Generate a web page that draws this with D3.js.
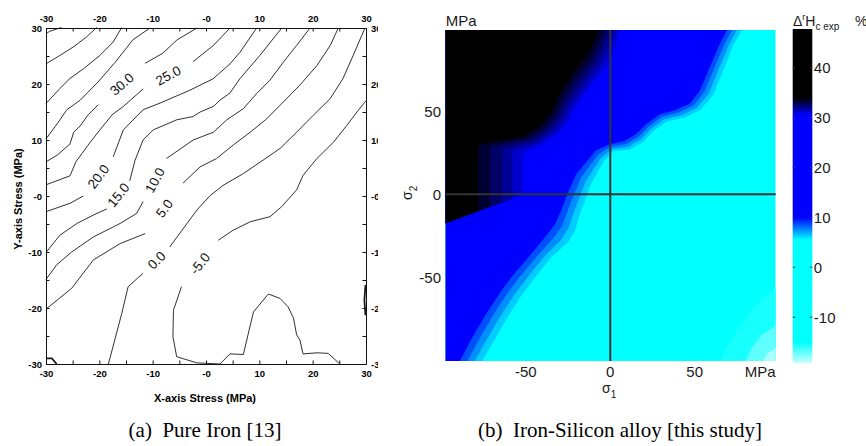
<!DOCTYPE html>
<html>
<head>
<meta charset="utf-8">
<script src="https://cdn.jsdelivr.net/npm/d3@7"></script>
<style>
  body { margin: 0; background: #fff; }
  svg { display: block; }
</style>
</head>
<body>
<svg id="fig" width="866" height="446"></svg>
<script>
// ---------- (a) Pure iron: contour lines in MPa ----------
const ironTicks = [-30, -20, -10, 0, 10, 20, 30];
const ironTickLabels = ["-30", "-20", "-10", "-0", "10", "20", "30"];
const ironLevels = [50, 45, 40, 35, 30, 25, 20, 15, 10, 5, 0, -5];
// index of the segment that is cut out for the inline label (-1 = no label)
const ironLabelSeg = [-1, -1, -1, -1, 6, 7, 2, 4, 6, 4, 3, 11];

const iron50 = [[-30,29.0],[-29.3,29.4],[-27.1,30.1]];
const iron45 = [[-30,23.6],[-27.4,25.1],[-24.9,26.6],[-22.4,28.4],[-20.5,30.1]];
const iron40 = [[-30,16.5],[-27.4,19.2],[-25.5,21.0],[-23.0,22.7],[-19.9,25.1],[-17.4,27.5],[-15.8,30.1]];
const iron35 = [[-30,10.2],[-27.9,12.9],[-26.1,15.4],[-23.6,17.1],[-20.4,20.2],[-17.1,23.8],[-13.7,27.9],[-10.5,30]];
const iron30 = [[-30,6.1],[-27.9,7.3],[-25.5,9.3],[-24.8,11.4],[-23.6,12.5],[-22.1,14.5],[-20.2,16.3],[-11.4,23.7],[-8.1,25.5],[-5.4,27.9],[-1.7,30]];
const iron25 = [[-30,2.0],[-25.5,3.6],[-24.4,6.1],[-22.1,9.1],[-19.9,11.8],[-17.6,14.5],[-15.5,16.0],[-11.8,19.1],[-2.4,24.0],[1.4,26.9],[4.5,30]];
const iron20 = [[-30,-2.8],[-25.5,-1.3],[-23.0,0.0],[-17.4,7.0],[-15.5,11.8],[-11.8,15.4],[-8.6,16.6],[-3.0,18.9],[-1.1,19.8],[1.3,20.9],[2.6,22.0],[4.5,23.6],[6.4,25.7],[9.5,30]];
const iron15 = [[-30,-10.1],[-27.4,-7.0],[-24.2,-4.9],[-21.1,-3.4],[-18.6,-2.3],[-14.3,2.7],[-13.3,6.4],[-11.8,10.0],[-9.9,11.8],[-5.5,13.6],[-2.4,14.2],[-1.1,15.0],[1.4,16.0],[2.6,17.1],[4.5,18.4],[6.4,21.0],[10.1,25.1],[14.2,30]];
const iron10 = [[-30,-14.9],[-28.0,-12.3],[-25.2,-10.0],[-21.1,-7.3],[-16.1,-4.9],[-13.0,-3.1],[-11.8,-1.0],[-7.4,6.7],[-2.4,10.0],[1.4,11.4],[3.9,13.6],[7.0,15.6],[9.5,18.3],[12.0,20.7],[14.5,23.9],[17.0,26.9],[19.5,30]];
const iron5 = [[-30,-20.2],[-25.2,-16.5],[-21.1,-11.4],[-16.1,-8.5],[-11.4,-6.7],[-4.3,2.3],[-1.1,5.2],[2.0,6.7],[5.1,9.1],[8.3,11.4],[11.4,13.8],[14.5,16.8],[17.6,19.8],[20.8,23.3],[23.3,26.9],[24.8,30]];
const iron0 = [[-18.3,-30],[-15.8,-21.0],[-14.6,-16.2],[-11.8,-13.8],[-6.8,-9.1],[-1.7,-2.5],[0.8,0.1],[3.2,1.9],[7.0,4.0],[10.7,6.4],[13.9,8.5],[17.0,11.4],[20.1,14.4],[23.3,17.4],[25.7,21.0],[27.6,25.1],[29.8,30]];
const ironM5 = [[30,17.0],[28.3,15.0],[26.4,12.6],[23.9,9.6],[20.8,6.7],[18.2,3.7],[17.0,1.1],[14.2,-1.9],[12.0,-3.7],[8.3,-4.6],[5.1,-6.1],[2.3,-7.9],[-4.6,-16.2],[-6.1,-20.4],[-6.2,-25.1],[-5.5,-28.7],[-1.7,-29.8],[2.6,-30],[4.5,-28.2],[7.0,-28.3],[8.9,-20.7],[11.7,-17.5],[13.9,-18.3],[15.4,-19.8],[16.4,-21.8],[17.0,-24.8],[17.6,-25.7],[18.2,-28.2],[20.8,-28.0],[22.9,-28.1],[25.1,-30]];
// short pieces running along the frame
const ironCorner = [[-30,-29.0],[-28.9,-29.0],[-28.0,-30]];
const ironEdge = [[29.9,-15.9],[29.7,-18.6],[29.9,-21.3]];

// ---------- (b) Iron-silicon: filled contour boundaries in MPa ----------
const fesiXTicks = [-50, 0, 50];
const fesiYTicks = [50, 0, -50];
const cbTicks = [40, 30, 20, 10, 0, -10];

// light corner, bottom right
const fesiA1 = [[64.5,-102],[69.7,-90.9],[76.8,-79.4],[83.9,-69.8],[91.6,-61.4],[101,-55]];
const fesiA2 = [[79.5,-102],[83.9,-92.7],[89.8,-84.9],[101,-77.5]];
const fesiA3 = [[89.5,-102],[93.4,-95.7],[101,-91]];
// cyan -> blue transition, top edge to bottom edge
const fesiT1 = [[79,101],[72.7,89.9],[66.8,74.8],[60.8,59.8],[53.1,50.8],[44.3,46.5],[33.6,44.1],[25.3,38.1],[19.4,31.5],[11.7,27.2],[1.6,26.0],[-4.3,19.4],[-7.9,12.8],[-12.0,5.5],[-13.8,-0.5],[-18.0,-11.3],[-20.9,-21.6],[-25.1,-28.8],[-35.7,-38.5],[-45.8,-51.7],[-53.5,-62.0],[-62.4,-76.4],[-71.3,-92.1],[-77,-102]];
const fesiT2 = [[76,101],[69.9,89.9],[64.0,75.2],[58.2,60.8],[51.1,52.2],[42.3,47.9],[32.2,45.5],[23.9,39.5],[18.0,33.1],[10.5,28.8],[1.0,27.4],[-5.7,21.8],[-10.1,15.0],[-14.8,7.7],[-17.6,0.1],[-21.7,-10.7],[-24.9,-20.4],[-29.6,-27.8],[-39.7,-37.9],[-49.9,-50.9],[-57.4,-61.0],[-66.3,-75.2],[-75.2,-90.9],[-81.3,-102]];
const fesiT3 = [[73,101],[67.2,89.9],[61.3,75.6],[55.6,61.8],[49.1,53.6],[40.3,49.4],[30.8,47.0],[22.5,40.9],[16.6,34.7],[9.3,30.5],[0.4,28.9],[-7.1,24.2],[-12.3,17.2],[-17.6,10.0],[-21.3,0.7],[-25.5,-10.1],[-28.8,-19.2],[-34.2,-26.8],[-43.6,-37.3],[-54.1,-50.1],[-61.4,-60.0],[-70.3,-74.0],[-79.1,-89.7],[-85.6,-102]];
const fesiT4 = [[70,101],[64.4,89.9],[58.5,76.0],[53.1,62.8],[47.2,54.9],[38.3,50.8],[29.4,48.4],[21.1,42.3],[15.2,36.3],[8.1,32.1],[-0.2,30.3],[-8.5,26.6],[-14.4,19.4],[-20.3,12.2],[-25.1,1.3],[-29.2,-9.5],[-32.8,-17.9],[-38.7,-25.7],[-47.6,-36.6],[-58.2,-49.3],[-65.3,-59.0],[-74.2,-72.9],[-83.1,-88.5],[-90,-102]];
// blue -> black transition, top edge to left edge
const fesiD1 = [[6.3,101],[1.6,86.9],[-2.5,77.3],[-9.1,68.8],[-16.8,58.6],[-21.5,52.0],[-25.0,44.1],[-31.0,36.9],[-40.5,30.3],[-51.1,25.4],[-52.3,23.0],[-52.3,0.7],[-55.9,-1.7],[-100,-18.1]];
const fesiD2 = [[3.4,101],[-1.4,87.5],[-5.5,78.4],[-12.0,70.0],[-19.1,59.8],[-23.9,53.2],[-27.4,45.4],[-33.4,38.2],[-42.8,31.5],[-57.6,26.6],[-58.2,24.8],[-58.2,-2.6],[-100,-18.1]];
const fesiD3 = [[0.4,101],[-4.3,88.1],[-8.5,79.7],[-15.0,71.3],[-22.1,61.0],[-26.2,54.4],[-29.8,46.6],[-35.7,39.3],[-45.2,32.7],[-63.6,27.8],[-64.2,26.0],[-64.2,-4.7],[-100,-18.1]];
const fesiD4 = [[-2.5,101],[-7.3,88.7],[-11.4,80.9],[-18.0,72.5],[-25.1,62.2],[-28.6,55.6],[-32.2,47.7],[-38.1,40.5],[-47.6,33.9],[-70.1,29.1],[-71.3,27.2],[-71.3,-7.4],[-100,-18.1]];
const fesiD5 = [[-6.1,101],[-10.8,89.3],[-15.0,82.1],[-21.5,73.7],[-28.0,63.4],[-31.6,56.8],[-35.1,49.0],[-41.1,41.7],[-50.5,35.1],[-76.6,30.3],[-78.4,28.5],[-78.4,-10.1],[-100,-18.1]];

const fesiBandLevels = [-15.5, -17, -18.5, 6.4, 7.5, 8.6, 10, 31.2, 31.9, 32.6, 33.3, 34.5];

// colour map of panel (b)
const cmap = d3.scaleLinear()
  .domain([-19.2, -15, 5.5, 10, 30.5, 34, 47.8])
  .range(["#c8ffff", "#00ffff", "#00ffff", "#0000ff", "#0000ff", "#000000", "#000000"])
  .clamp(true);

const sans = "'Liberation Sans', Arial, Helvetica, sans-serif";
const svg = d3.select("#fig");
svg.append("rect").attr("width", 866).attr("height", 446).attr("fill", "#fff");

const defs = svg.append("defs");
defs.append("clipPath").attr("id", "clipA")
  .append("rect").attr("x", 0).attr("y", 0).attr("width", 378).attr("height", 446);

// ================= panel (a) =================
const ironX = d3.scaleLinear().domain([-30, 30]).range([46, 366]);
const ironY = d3.scaleLinear().domain([-30, 30]).range([364, 28]);
const ironLine = d3.line().x(d => ironX(d[0])).y(d => ironY(d[1]));

const pa = svg.append("g").attr("clip-path", "url(#clipA)");

const ironLines = [iron50, iron45, iron40, iron35, iron30, iron25, iron20, iron15, iron10, iron5, iron0, ironM5];

ironLines.forEach((pts, i) => {
  const cut = ironLabelSeg[i];
  const parts = cut < 0 ? [pts] : [pts.slice(0, cut + 1), pts.slice(cut + 1)];
  parts.forEach(p => {
    pa.append("path")
      .attr("d", ironLine(p))
      .attr("fill", "none")
      .attr("stroke", "#1a1a1a")
      .attr("stroke-width", 0.9);
  });
  if (cut >= 0) {
    const a = pts[cut], b = pts[cut + 1];
    const x0 = ironX(a[0]), y0 = ironY(a[1]), x1 = ironX(b[0]), y1 = ironY(b[1]);
    let ang = Math.atan2(y1 - y0, x1 - x0) * 180 / Math.PI;
    if (ang > 90) ang -= 180;
    if (ang < -90) ang += 180;
    pa.append("text")
      .attr("transform", `translate(${(x0 + x1) / 2},${(y0 + y1) / 2}) rotate(${ang})`)
      .attr("text-anchor", "middle")
      .attr("dy", "0.36em")
      .attr("font-family", sans)
      .attr("font-size", 13.5)
      .attr("fill", "#111")
      .text(ironLevels[i].toFixed(1));
  }
});

[ironCorner, ironEdge].forEach(p => {
  pa.append("path")
    .attr("d", ironLine(p))
    .attr("fill", "none")
    .attr("stroke", "#1a1a1a")
    .attr("stroke-width", 1.8);
});

// frame + inward ticks
const minorTicks = d3.range(-30, 31, 5);
const ironFmt = v => {
  const k = ironTicks.indexOf(v);
  return k < 0 ? "" : ironTickLabels[k];
};
function ironAxis(axis, tx, ty, pad) {
  const g = pa.append("g")
    .attr("transform", `translate(${tx},${ty})`)
    .call(axis.tickValues(minorTicks).tickSize(-3.5).tickSizeOuter(0).tickPadding(pad).tickFormat(ironFmt));
  g.attr("font-family", sans).attr("font-size", 9.5).attr("font-weight", "bold");
  g.selectAll("path, line").attr("stroke", "#111");
  return g;
}
ironAxis(d3.axisTop(ironX), 0, 28, 6);
ironAxis(d3.axisBottom(ironX), 0, 364, 6);
ironAxis(d3.axisLeft(ironY), 46, 0, 4);
ironAxis(d3.axisRight(ironY), 366, 0, 5);

pa.append("text")
  .attr("x", 205).attr("y", 402)
  .attr("text-anchor", "middle")
  .attr("font-family", sans).attr("font-size", 11).attr("font-weight", "bold")
  .text("X-axis Stress (MPa)");
pa.append("text")
  .attr("transform", "translate(22,199) rotate(-90)")
  .attr("text-anchor", "middle")
  .attr("font-family", sans).attr("font-size", 11).attr("font-weight", "bold")
  .text("Y-axis Stress (MPa)");

// ================= panel (b) =================
const fesiX = d3.scaleLinear().domain([-97.5, 98]).range([445.7, 775.7]);
const fesiY = d3.scaleLinear().domain([-100.5, 99]).range([361, 30]);
const fesiLine = d3.line().x(d => fesiX(d[0])).y(d => fesiY(d[1]));

defs.append("clipPath").attr("id", "clipB")
  .append("rect")
  .attr("x", fesiX(-97.5)).attr("y", fesiY(99))
  .attr("width", fesiX(98) - fesiX(-97.5))
  .attr("height", fesiY(-100.5) - fesiY(99));

const pb = svg.append("g").attr("clip-path", "url(#clipB)");

pb.append("rect")
  .attr("x", fesiX(-97.5)).attr("y", fesiY(99))
  .attr("width", fesiX(98) - fesiX(-97.5))
  .attr("height", fesiY(-100.5) - fesiY(99))
  .attr("fill", cmap(0));

// closing corners for each kind of band (outside the plot, clipped)
const viaBR = [[110, -110]];
const viaLeft = [[-110, -110], [-110, 110]];
const viaTL = [[-110, -20], [-110, 110]];

const fesiBands = [
  [fesiA1, viaBR], [fesiA2, viaBR], [fesiA3, viaBR],
  [fesiT1, viaLeft], [fesiT2, viaLeft], [fesiT3, viaLeft], [fesiT4, viaLeft],
  [fesiD1, viaTL], [fesiD2, viaTL], [fesiD3, viaTL], [fesiD4, viaTL], [fesiD5, viaTL]
];

pb.selectAll("path.band")
  .data(fesiBands)
  .enter()
  .append("path")
  .attr("class", "band")
  .attr("d", d => fesiLine(d[0].concat(d[1])) + "Z")
  .attr("fill", (d, i) => cmap(fesiBandLevels[i]))
  .attr("stroke", (d, i) => cmap(fesiBandLevels[i]))
  .attr("stroke-width", 0.6);

// zero lines
svg.append("line")
  .attr("x1", fesiX(0)).attr("x2", fesiX(0))
  .attr("y1", fesiY(99)).attr("y2", fesiY(-100.5))
  .attr("stroke", "#333").attr("stroke-width", 2);
svg.append("line")
  .attr("x1", fesiX(-97.5)).attr("x2", fesiX(98))
  .attr("y1", fesiY(0)).attr("y2", fesiY(0))
  .attr("stroke", "#333").attr("stroke-width", 2);

const labelColor = "#1a1a1a";
svg.selectAll("text.fy")
  .data(fesiYTicks)
  .enter()
  .append("text")
  .attr("class", "fy")
  .attr("x", 441).attr("y", d => fesiY(d))
  .attr("dy", "0.36em")
  .attr("text-anchor", "end")
  .attr("font-family", sans).attr("font-size", 15).attr("fill", labelColor)
  .text(d => d);

svg.selectAll("text.fx")
  .data(fesiXTicks)
  .enter()
  .append("text")
  .attr("class", "fx")
  .attr("x", d => fesiX(d)).attr("y", 377)
  .attr("text-anchor", "middle")
  .attr("font-family", sans).attr("font-size", 15).attr("fill", labelColor)
  .text(d => d);

svg.append("text")
  .attr("x", fesiX(98)).attr("y", 377)
  .attr("text-anchor", "end")
  .attr("font-family", sans).attr("font-size", 15).attr("fill", labelColor)
  .text("MPa");
svg.append("text")
  .attr("x", fesiX(-97.5)).attr("y", 26)
  .attr("font-family", sans).attr("font-size", 15).attr("fill", labelColor)
  .text("MPa");

// sigma labels
const s1 = svg.append("text")
  .attr("x", 602).attr("y", 393)
  .attr("font-family", sans).attr("font-size", 14).attr("fill", labelColor);
s1.append("tspan").text("σ");
s1.append("tspan").attr("dy", 5).attr("font-size", 10).text("1");

const s2 = svg.append("text")
  .attr("transform", "translate(412,200) rotate(-90)")
  .attr("font-family", sans).attr("font-size", 14).attr("fill", labelColor);
s2.append("tspan").text("σ");
s2.append("tspan").attr("dy", 5).attr("font-size", 10).text("2");

// ---------- colour bar ----------
const cbX0 = 792.7, cbW = 19.6;
const cbY = d3.scaleLinear().domain([-19.2, 47.8]).range([363, 29]);
const cbRows = d3.range(Math.round(cbY(47.8)), Math.round(cbY(-19.2)));

svg.append("g")
  .selectAll("rect")
  .data(cbRows)
  .enter()
  .append("rect")
  .attr("x", cbX0).attr("y", d => d)
  .attr("width", cbW).attr("height", 1.05)
  .attr("fill", d => cmap(cbY.invert(d + 0.5)));

const cbTickG = svg.append("g");
cbTicks.forEach(v => {
  const y = cbY(v);
  cbTickG.append("line").attr("x1", cbX0).attr("x2", cbX0 + 2.5).attr("y1", y).attr("y2", y)
    .attr("stroke", "#333").attr("stroke-width", 1);
  cbTickG.append("line").attr("x1", cbX0 + cbW - 2.5).attr("x2", cbX0 + cbW).attr("y1", y).attr("y2", y)
    .attr("stroke", "#333").attr("stroke-width", 1);
  cbTickG.append("text")
    .attr("x", cbX0 + cbW + 1.5).attr("y", y)
    .attr("dy", "0.36em")
    .attr("font-family", sans).attr("font-size", 15).attr("fill", labelColor)
    .text(v);
});

const cbTitle = svg.append("text")
  .attr("x", 793).attr("y", 26)
  .attr("font-family", sans).attr("font-size", 14).attr("fill", labelColor);
cbTitle.append("tspan").text("Δ");
cbTitle.append("tspan").attr("dy", -6).attr("font-size", 9).text("r");
cbTitle.append("tspan").attr("dy", 6).text("H");
cbTitle.append("tspan").attr("dy", 4).attr("font-size", 10).text("c exp");
svg.append("text")
  .attr("x", 855).attr("y", 26)
  .attr("font-family", sans).attr("font-size", 14).attr("fill", labelColor)
  .text("%");

// ---------- captions ----------
const serif = "'Liberation Serif', 'Times New Roman', serif";
svg.append("text")
  .attr("x", 205).attr("y", 437)
  .attr("text-anchor", "middle")
  .attr("font-family", serif).attr("font-size", 21)
  .text("(a)\u2002Pure Iron [13]");
svg.append("text")
  .attr("x", 620).attr("y", 437)
  .attr("text-anchor", "middle")
  .attr("font-family", serif).attr("font-size", 21)
  .text("(b)\u2002Iron-Silicon alloy [this study]");
</script>
</body>
</html>
